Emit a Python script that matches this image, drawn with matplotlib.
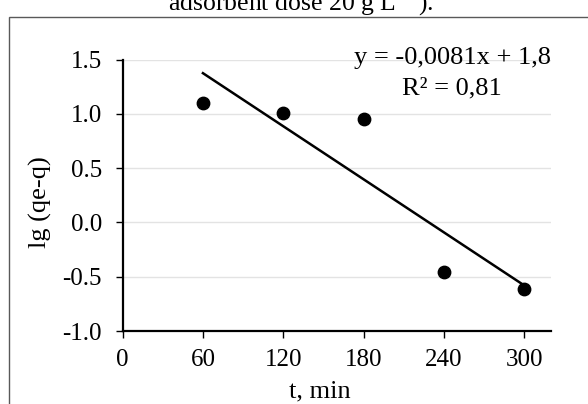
import numpy as np
import matplotlib
matplotlib.use("Agg")
import matplotlib.pyplot as plt
from matplotlib.patches import Rectangle

# data
t_min = [60, 120, 180, 240, 300]
lg_qe_q = [1.10, 1.01, 0.95, -0.46, -0.61]
x_ticks = [0, 60, 120, 180, 240, 300]
y_ticks = [-1.0, -0.5, 0.0, 0.5, 1.0, 1.5]

plt.rcParams['font.family'] = ['Liberation Serif', 'DejaVu Serif']
plt.rcParams['mathtext.fontset'] = 'stix'

fig = plt.figure(figsize=(5.88, 4.04), dpi=100)
W, H = 588, 404

# outer chart frame (cut off by the image edges)
fig.patches.append(Rectangle((9 / W, -0.1), 1.2, 1 - 16.5 / H + 0.1,
                             transform=fig.transFigure, fill=False,
                             edgecolor='#595959', linewidth=1.0))

# caption of the figure, cut off at the top like in the source
fig.text(301 / W, 1 - 11 / H, r"adsorbent dose 20 g L$^{-1}$).",
         ha='center', va='baseline', fontsize=18.5)

ax = fig.add_axes([122.6 / W, 1 - 331 / H, (551 - 122.6) / W, (331 - 59.7) / H])

ax.scatter(t_min, lg_qe_q, s=80, color='black', zorder=3)

# linear trend line
k, b = np.polyfit(t_min, lg_qe_q, 1)
xs = np.array([min(t_min), max(t_min)])
ax.plot(xs, k * xs + b, color='black', linewidth=1.8, zorder=2)

ax.set_xlim(0, 320)
ax.set_ylim(-1.0, 1.5)
ax.set_xticks(x_ticks)
ax.set_yticks(y_ticks)
ax.set_yticklabels(["%.1f" % v for v in y_ticks])
ax.tick_params(direction='out', length=5, width=1, labelsize=18, colors='black')
ax.tick_params(axis='x', pad=8)
ax.tick_params(axis='y', pad=10)

for v in y_ticks[1:]:
    ax.axhline(v, color='#e3e3e3', linewidth=1, zorder=0)

for s in ['top', 'right']:
    ax.spines[s].set_visible(False)
for s in ['left', 'bottom']:
    ax.spines[s].set_linewidth(1.6)

ax.set_xlabel("t, min", fontsize=19)
ax.xaxis.set_label_coords((320 - 122.6) / (551 - 122.6), -(397 - 331) / (331 - 59.7))
ax.xaxis.label.set_va('baseline')
ax.set_ylabel("lg (qe-q)", fontsize=19)
ax.yaxis.set_label_coords(-(122.6 - 40) / (551 - 122.6), 0.475)
ax.yaxis.label.set_va('center')

ax.text(452 / W, 1 - 58 / H, "y = -0,0081x + 1,8", transform=fig.transFigure,
        ha='center', va='center', fontsize=19)
ax.text(452 / W, 1 - 88 / H, "R² = 0,81", transform=fig.transFigure,
        ha='center', va='center', fontsize=19)

fig.savefig("out.png", dpi=100)
